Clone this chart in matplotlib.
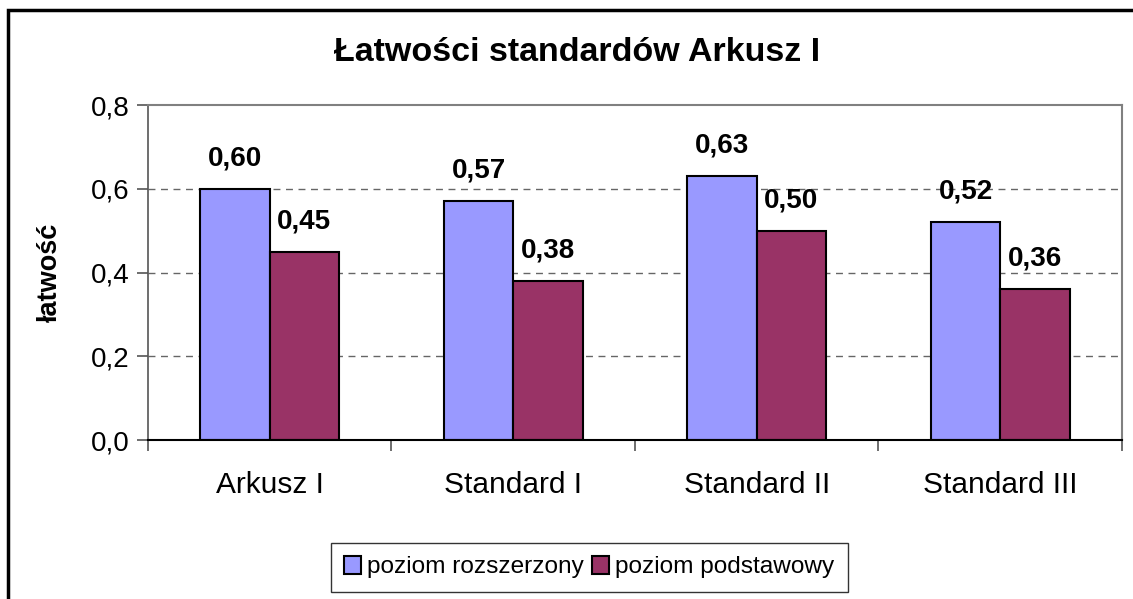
import numpy as np
import matplotlib.pyplot as plt
from matplotlib.patches import Rectangle

plt.rcParams['font.family'] = ['Liberation Sans', 'DejaVu Sans']

categories = ["Arkusz I", "Standard I", "Standard II", "Standard III"]
rozszerzony = [0.60, 0.57, 0.63, 0.52]
podstawowy = [0.45, 0.38, 0.50, 0.36]
series_names = ["poziom rozszerzony", "poziom podstawowy"]
yticks = [0.0, 0.2, 0.4, 0.6, 0.8]

fig = plt.figure(figsize=(11.33, 5.99), dpi=100)
ax = fig.add_axes([0.1306, 0.2654, 0.8597, 0.5593])

x = np.arange(len(categories))
w = 0.285
b1 = ax.bar(x - w / 2, rozszerzony, w, color="#9999FF", edgecolor="black", linewidth=1.5,
            label=series_names[0], zorder=3)
b2 = ax.bar(x + w / 2, podstawowy, w, color="#993366", edgecolor="black", linewidth=1.5,
            label=series_names[1], zorder=3)

# data labels above bars
for bars, vals in ((b1, rozszerzony), (b2, podstawowy)):
    for r, v in zip(bars, vals):
        ax.annotate(f"{v:.2f}".replace(".", ","), (r.get_x() + r.get_width() / 2, v),
                    xytext=(0, 22), textcoords="offset points", ha="center", va="center",
                    fontsize=20, fontweight="bold")

ax.set_xlim(-0.5, len(categories) - 0.5)
ax.set_ylim(0, 0.8)
ax.set_yticks(yticks)
ax.set_yticklabels([f"{t:.1f}".replace(".", ",") for t in yticks], fontsize=20)
ax.set_xticks(x)
ax.set_xticklabels(categories, fontsize=21.5)
ax.set_xticks(np.arange(len(categories) + 1) - 0.5, minor=True)
ax.tick_params(axis="x", which="major", length=0, pad=22)
ax.tick_params(axis="x", which="minor", length=8, width=1.2, color="#555555")
ax.tick_params(axis="y", length=8, width=1.2, color="#555555", pad=5)

for y in yticks[1:-1]:
    ax.axhline(y, color="#666666", linestyle=(0, (5, 4)), linewidth=1, zorder=1)

for s in ("top", "right"):
    ax.spines[s].set_color("#808080")
    ax.spines[s].set_linewidth(1.5)
ax.spines["left"].set_color("#555555")
ax.spines["left"].set_linewidth(1.2)
ax.spines["bottom"].set_color("black")
ax.spines["bottom"].set_linewidth(1.5)
ax.spines["bottom"].set_zorder(4)

fig.text(0.509, 0.913, "Łatwości standardów Arkusz I", ha="center", va="center",
         fontsize=24.5, fontweight="bold")
fig.text(0.044, 0.546, "łatwość", rotation=90, ha="center", va="center",
         fontsize=19.5, fontweight="bold")

leg = fig.legend(loc="center", bbox_to_anchor=(0.520, 0.053), ncol=2, fontsize=17.6,
                 frameon=True, fancybox=False, edgecolor="black", handlelength=0.7,
                 handleheight=0.75, handletextpad=0.25, columnspacing=0.3, borderpad=0.55,
                 borderaxespad=0)
leg.get_frame().set_linewidth(1)

# outer chart border
fig.patches.append(Rectangle((8 / 1133, -0.1), 1.2, 1 - 10 / 599 + 0.1, transform=fig.transFigure,
                             fill=False, edgecolor="black", linewidth=2.5))

fig.savefig("out.png", dpi=100)
